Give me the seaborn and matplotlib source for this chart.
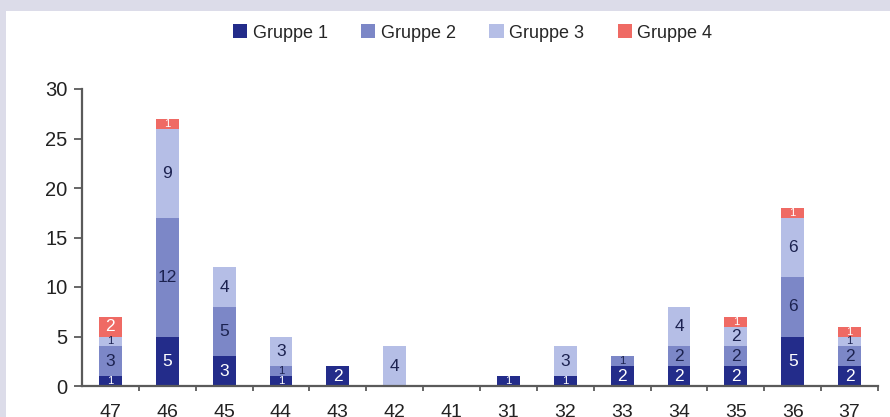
import numpy as np
import pandas as pd
import matplotlib
matplotlib.use("Agg")
import matplotlib.pyplot as plt
import seaborn as sns
from matplotlib.patches import Rectangle, Patch

# ─────────────────────────────────────────────────────────────
# Data (Kalenderwochen, Anzahl je Gruppe)
# ─────────────────────────────────────────────────────────────
weeks    = ["47", "46", "45", "44", "43", "42", "41",
            "31", "32", "33", "34", "35", "36", "37"]
gruppe_1 = [1, 5, 3, 1, 2, 0, 0, 1, 1, 2, 2, 2, 5, 2]
gruppe_2 = [3, 12, 5, 1, 0, 0, 0, 0, 0, 1, 2, 2, 6, 2]
gruppe_3 = [1, 9, 4, 3, 0, 4, 0, 0, 3, 0, 4, 2, 6, 1]
gruppe_4 = [2, 1, 0, 0, 0, 0, 0, 0, 0, 0, 0, 1, 1, 1]

group_names  = ["Gruppe 1", "Gruppe 2", "Gruppe 3", "Gruppe 4"]
group_colors = ["#232c8a", "#7c87c7", "#b5bee6", "#ef6a64"]
label_colors = ["white", "#1c2250", "#1c2250", "white"]

series = [gruppe_1, gruppe_2, gruppe_3, gruppe_4]

df = pd.DataFrame({"Woche": weeks})
cum = np.zeros(len(weeks))
for name, vals in zip(group_names, series):
    df[name + "_bottom"] = cum.copy()
    cum = cum + np.array(vals)
    df[name + "_top"] = cum.copy()

# ─────────────────────────────────────────────────────────────
# Plot
# ─────────────────────────────────────────────────────────────
sns.set_theme(style="white")
plt.rcParams["font.family"] = ["Liberation Sans", "DejaVu Sans"]

fig = plt.figure(figsize=(8.9, 4.17), dpi=100)
fig.patch.set_facecolor("#dcdce9")
fig.patches.append(Rectangle((6 / 890, 0), 1, (417 - 11) / 417,
                             transform=fig.transFigure, facecolor="white",
                             edgecolor="none", zorder=-5))
ax = fig.add_axes([82 / 890, 1 - 386 / 417, (878 - 82) / 890, (386 - 89) / 417])
ax.set_facecolor("none")
ax.set_zorder(2)

# stacked bars: draw cumulative totals from top group down
for name, color in reversed(list(zip(group_names, group_colors))):
    sns.barplot(data=df, x="Woche", y=name + "_top", order=weeks,
                color=color, saturation=1, width=0.4, linewidth=0, ax=ax)

# segment labels (single-unit segments are too thin for a full-size digit)
for name, vals, lc in zip(group_names, series, label_colors):
    for i, v in enumerate(vals):
        if v > 0:
            mid = df[name + "_bottom"].iloc[i] + v / 2
            ax.text(i, mid, str(v), ha="center", va="center",
                    fontsize=12.5 if v > 1 else 8, color=lc)

ax.set_xlim(-0.5, len(weeks) - 0.5)
ax.set_ylim(0, 30)
ax.set_yticks([0, 5, 10, 15, 20, 25, 30])
ax.set_xlabel("")
ax.set_ylabel("")

for side in ["top", "right"]:
    ax.spines[side].set_visible(False)
for side in ["left", "bottom"]:
    ax.spines[side].set_color("#5a5a5a")
    ax.spines[side].set_linewidth(1.6)

ax.tick_params(axis="y", which="major", left=True, length=5.5, width=1.3,
               color="#5a5a5a", labelsize=14.5, pad=5, labelcolor="#222222")
ax.tick_params(axis="x", which="major", bottom=False, labelsize=14,
               pad=7, labelcolor="#222222")
ax.set_xticks(np.arange(len(weeks)) + 0.5, minor=True)
ax.tick_params(axis="x", which="minor", bottom=True, length=3.5, width=1.3,
               color="#5a5a5a")

handles = [Patch(facecolor=c, edgecolor="none") for c in group_colors]
fig.legend(handles, group_names, loc="center", bbox_to_anchor=(0.531, 1 - 33 / 417),
           ncol=4, frameon=False, fontsize=13, handlelength=0.8,
           handleheight=0.8, handletextpad=0.3, columnspacing=1.85)

fig.savefig("out.png", dpi=100)
